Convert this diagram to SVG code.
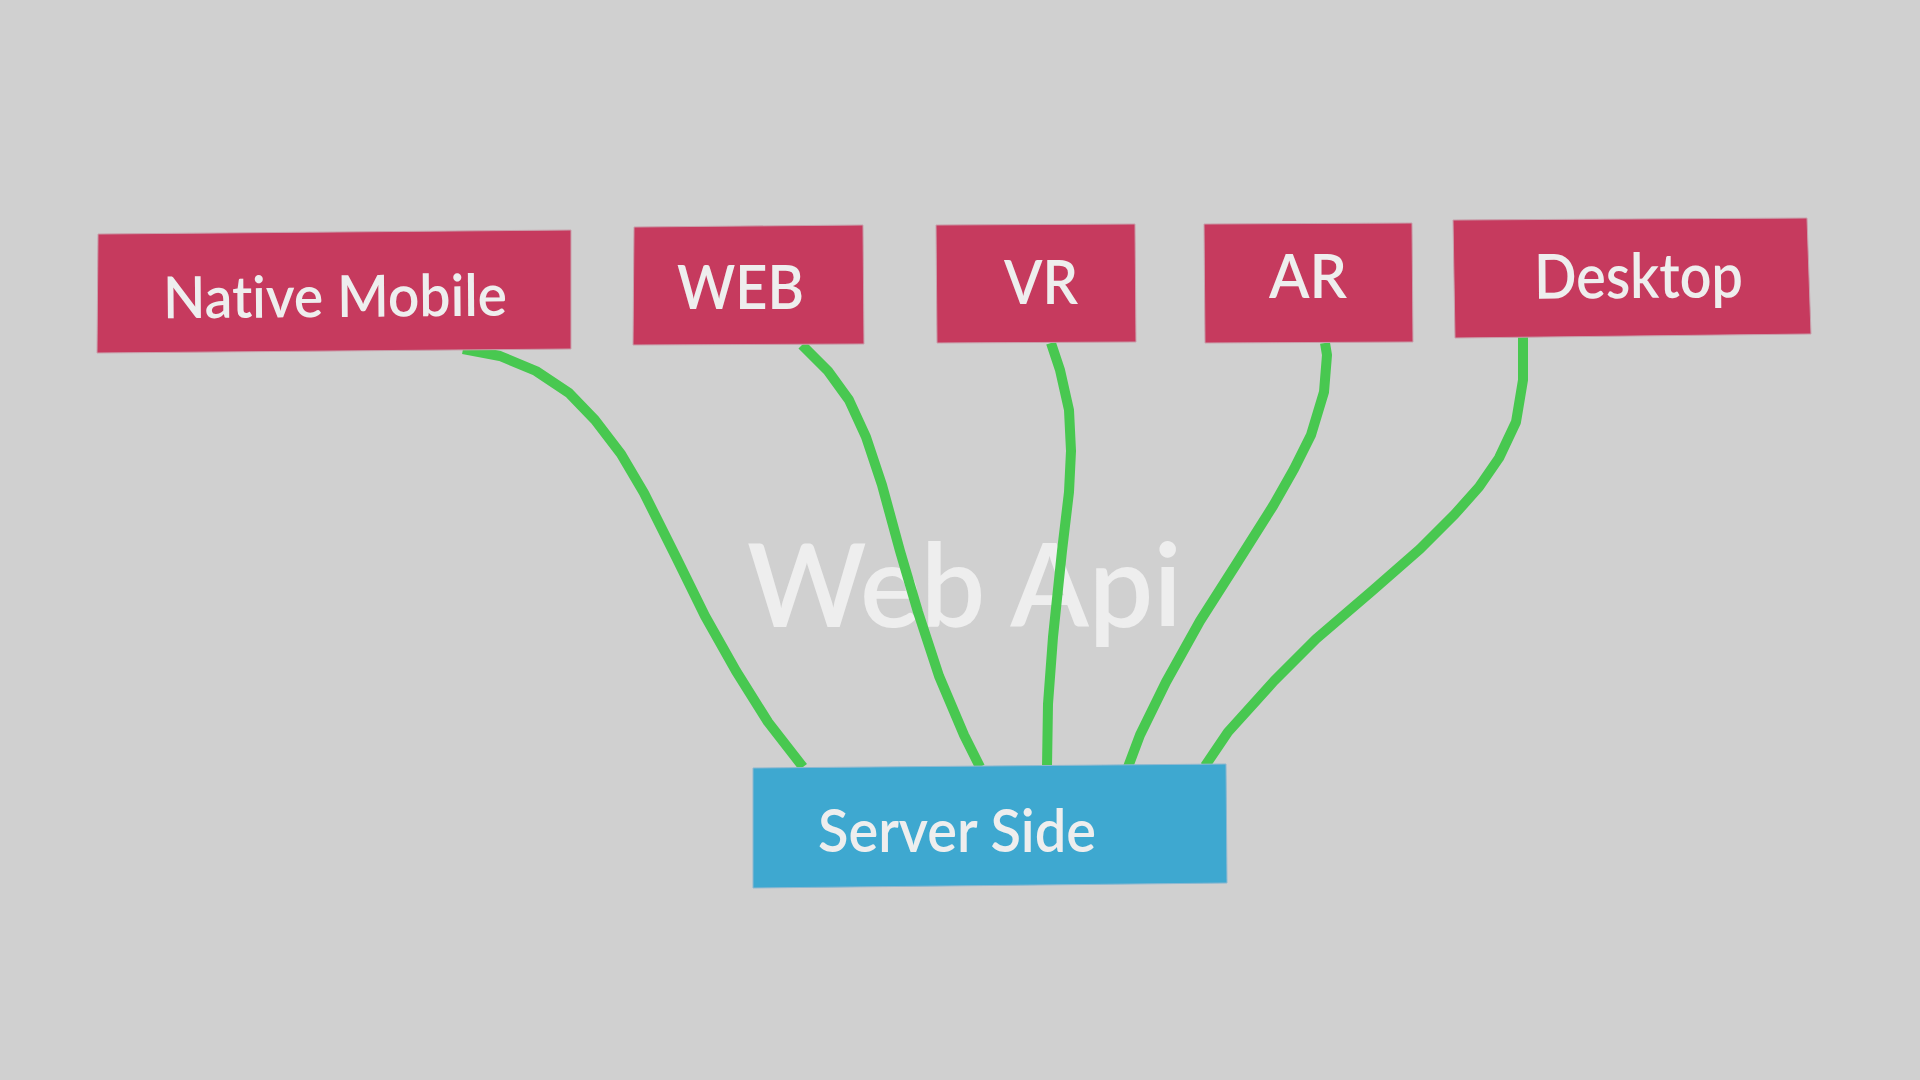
<svg xmlns="http://www.w3.org/2000/svg" width="1920" height="1080" viewBox="0 0 1920 1080">
<style>
.bg{fill:#d0d0d0}
.client{fill:#c63a5e;stroke:#c9a0ac;stroke-width:1}
.server{fill:#3ea8d0;stroke:#8fb8d0;stroke-width:1}
.lbl{font-family:"Lato","Open Sans","Liberation Sans",sans-serif;fill:#eeeeee;font-weight:600;font-variant-ligatures:none}
.link{fill:none;stroke:#48c850;stroke-width:10;stroke-linejoin:round;stroke-linecap:butt}
.title{font-family:"Lato","Open Sans","Liberation Sans",sans-serif;fill:#eeeeee;font-size:115px;font-weight:600}
</style>
<rect class="bg" x="0" y="0" width="1920" height="1080"/>
<text class="title" x="747" y="627" textLength="435" lengthAdjust="spacingAndGlyphs">Web Api</text>
<g id="connectors">
<polyline class="link" points="463,349 500,356 536,371 569,393 595,420 621,454 644,493 676,557 705,616 736,671 768,722 803,767"/>
<polyline class="link" points="802,345 828,371 849,400 866,437 882,485 900,551 918,612 939,676 964,735 980,767"/>
<polyline class="link" points="1051,343 1060,370 1069,410 1071,451 1069,492 1062,551 1053,637 1048,704 1047,767"/>
<polyline class="link" points="1325,343 1327,355 1324,392 1311,435 1294,469 1273,506 1237,563 1200,621 1166,682 1140,735 1128,767"/>
<polyline class="link" points="1523,336 1523,380 1516,422 1499,458 1479,487 1455,514 1420,549 1372,591 1316,639 1274,681 1228,732 1205,766"/>
</g>
<g id="native-mobile">
<polygon class="client" points="98,234 571,230 571,349 97,353"/>
<text class="lbl" x="163" y="317" font-size="58" textLength="344" lengthAdjust="spacingAndGlyphs" transform="rotate(-0.45 334 296)">Native Mobile</text>
</g>
<g id="web">
<polygon class="client" points="634,227 863,225 864,344 633,345"/>
<text class="lbl" x="677" y="309" font-size="62" textLength="127" lengthAdjust="spacingAndGlyphs">WEB</text>
</g>
<g id="vr">
<polygon class="client" points="936,225 1135,224 1136,342 937,343"/>
<text class="lbl" x="1004" y="304" font-size="62" textLength="74" lengthAdjust="spacingAndGlyphs">VR</text>
</g>
<g id="ar">
<polygon class="client" points="1204,224 1412,223 1413,342 1205,343"/>
<text class="lbl" x="1269" y="298" font-size="62" textLength="78" lengthAdjust="spacingAndGlyphs">AR</text>
</g>
<g id="desktop">
<polygon class="client" points="1453,220 1807,218 1811,334 1455,338"/>
<text class="lbl" x="1534" y="298" font-size="62" textLength="209" lengthAdjust="spacingAndGlyphs" transform="rotate(-0.4 1638 280)">Desktop</text>
</g>
<g id="server-side">
<polygon class="server" points="753,768 1226,764 1227,883 753,888"/>
<text class="lbl" x="818" y="852" font-size="60" textLength="278" lengthAdjust="spacingAndGlyphs">Server Side</text>
</g>
</svg>
